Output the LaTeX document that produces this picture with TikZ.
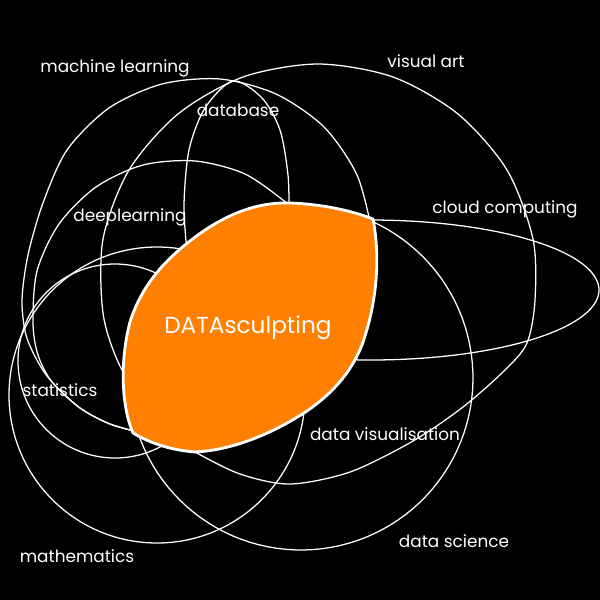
\documentclass[tikz,border=0pt]{standalone}
\usepackage{fontspec}
\newfontfamily\venfont{Poppins}
\definecolor{sculpt}{RGB}{255,128,0}
\begin{document}
\begin{tikzpicture}[x=0.025cm,y=-0.025cm,
  ring/.style={white,line width=0.9pt},
  tag/.style={text=white,anchor=base,inner sep=0pt,font=\venfont\fontsize{12}{14}\selectfont},
  hubtag/.style={text=white,anchor=base,inner sep=0pt,font=\venfont\fontsize{16.5}{18}\selectfont}]
\fill[black] (0,0) rectangle (600,600);
\useasboundingbox (0,0) rectangle (600,600);

% rings, their hidden parts go under the orange
\draw[ring] (115,361) circle[radius=97];
\draw[ring] (157,395) circle[radius=148];
\draw[ring] plot[smooth] coordinates {(372,231) (357,175) (324,127) (276,94) (220,79) (162,84) (109,108)
  (67,150) (43,203) (28,255) (22,300) (26,335) (38,362) (52,382) (80,408) (110,424) (142,433)};
\draw[ring] plot[smooth] coordinates {(297,214) (288,204) (245,174) (195,161) (143,165) (96,187) (59,224)
  (37,271) (33,323) (38,355) (52,382) (80,408) (110,424) (142,433)};
\draw[ring] plot[smooth] coordinates {(187,252) (184,205) (189,150) (205,108) (233,81) (262,98) (280,130)
  (288,175) (289,212)};
\draw[ring] plot[smooth] coordinates {(151,412) (120,366) (103,313) (103,239) (129,170) (178,114) (243,77)
  (318,64) (393,77) (458,114) (507,170) (533,239) (535,300) (527,343) (505,370) (463,407) (413,441)
  (350,472) (290,484) (240,474) (195,452) (178,441)};
\draw[ring] plot[domain=-100:100,samples=60] ({371+228*cos(\x)},{290+70*sin(\x)});
\draw[ring] plot[domain=-75:165,samples=80] ({301+172*cos(\x)},{378+172*sin(\x)});

% the orange core
\filldraw[fill=sculpt,draw=white,line width=2pt,line join=round]
  (185,245) .. controls (225,212) and (260,202) .. (290,203)
  .. controls (320,204) and (350,210) .. (373,219)
  .. controls (380,255) and (378,300) .. (362,345)
  .. controls (350,375) and (330,395) .. (307,411)
  .. controls (275,432) and (235,450) .. (195,452)
  .. controls (170,450) and (150,443) .. (133,433)
  .. controls (121,405) and (120,360) .. (130,322)
  .. controls (140,290) and (160,265) .. (185,245) -- cycle;

\node[hubtag] (hub) at (248,333) {DATAsculpting};
\node[tag] (ml) at (115,72) {machine learning};
\node[tag] (va) at (426,67) {visual art};
\node[tag] (db) at (238,116) {database};
\node[tag] (dl) at (130,221) {deeplearning};
\node[tag] (cc) at (505,213) {cloud computing};
\node[tag] (st) at (60,396) {statistics};
\node[tag] (dv) at (385,440) {data visualisation};
\node[tag] (ma) at (77,562) {mathematics};
\node[tag] (ds) at (454,547) {data science};
\end{tikzpicture}
\end{document}
